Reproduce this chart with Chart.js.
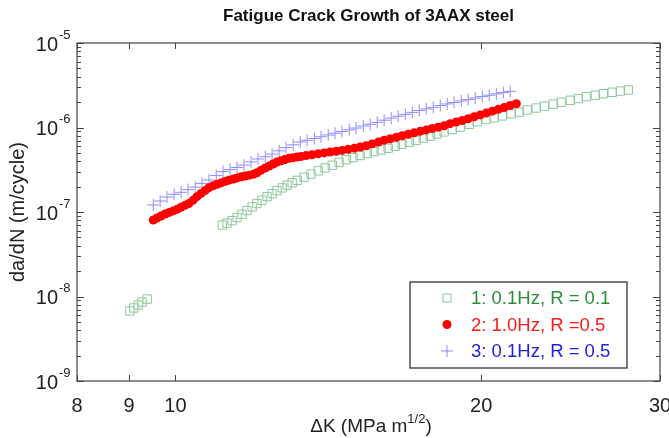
<!DOCTYPE html>
<html>
<head>
<meta charset="utf-8">
<script src="https://cdn.jsdelivr.net/npm/chart.js@4"></script>
<style>
  body { margin: 0; background: #fff; }
</style>
</head>
<body>
<canvas id="fcg-chart" width="669" height="438"></canvas>
<script>
// legend names
var seriesNames = ['1: 0.1Hz, R = 0.1', '2: 1.0Hz, R =0.5', '3: 0.1Hz, R = 0.5'];

// series 1 : 0.1Hz, R = 0.1 (green squares)
var dk1 = [9.02, 9.10, 9.19, 9.27, 9.38,
  11.12, 11.24, 11.37, 11.50, 11.63, 11.76, 11.90, 12.03, 12.17, 12.31, 12.45, 12.59, 12.74, 12.88, 13.03, 13.18,
  13.39, 13.60, 13.82, 14.04, 14.27, 14.49, 14.73, 14.96, 15.20, 15.45, 15.69, 15.94, 16.20, 16.46, 16.72, 16.99,
  17.26, 17.54, 17.82, 18.10, 18.39,
  18.73, 19.07, 19.47, 19.82, 20.23, 20.60, 20.98, 21.41, 21.80, 22.20, 22.66, 23.08, 23.55, 23.98, 24.48, 24.93,
  25.38, 25.91, 26.38, 26.92, 27.42, 27.92];
var dadn1 = [6.74e-9, 7.31e-9, 7.93e-9, 8.60e-9, 9.33e-9,
  7.0e-8, 7.4e-8, 7.9e-8, 8.6e-8, 9.4e-8, 1.04e-7, 1.15e-7, 1.26e-7, 1.38e-7, 1.52e-7, 1.65e-7, 1.79e-7, 1.93e-7, 2.08e-7, 2.22e-7, 2.37e-7,
  2.58e-7, 2.81e-7, 3.07e-7, 3.32e-7, 3.58e-7, 3.86e-7, 4.16e-7, 4.40e-7, 4.66e-7, 4.92e-7, 5.17e-7, 5.42e-7, 5.69e-7, 6.01e-7, 6.34e-7, 6.68e-7,
  7.07e-7, 7.49e-7, 7.91e-7, 8.38e-7, 8.87e-7,
  9.47e-7, 1.01e-6, 1.09e-6, 1.17e-6, 1.24e-6, 1.30e-6, 1.37e-6, 1.45e-6, 1.52e-6, 1.61e-6, 1.70e-6, 1.79e-6, 1.89e-6, 1.99e-6, 2.10e-6, 2.20e-6,
  2.32e-6, 2.41e-6, 2.51e-6, 2.61e-6, 2.70e-6, 2.78e-6];

// series 2 : 1.0Hz, R = 0.5 (red dots)
var dk2 = [9.51, 9.59, 9.68, 9.77, 9.86, 9.95, 10.04, 10.13, 10.22, 10.31, 10.41, 10.50, 10.60, 10.70, 10.79, 10.89,
  10.99, 11.09, 11.19, 11.29, 11.40, 11.50, 11.61, 11.71, 11.82, 11.93, 12.03, 12.14, 12.26, 12.37, 12.48, 12.59,
  12.71, 12.82, 12.94, 13.06, 13.18, 13.30,
  13.45, 13.63, 13.82, 14.01, 14.20, 14.40, 14.59, 14.79, 15.00, 15.20, 15.41, 15.62, 15.84, 16.05, 16.27, 16.50,
  16.72, 16.95, 17.18, 17.42, 17.66, 17.90, 18.14, 18.39, 18.64, 18.90, 19.16, 19.42, 19.69, 19.96, 20.23, 20.51,
  20.79, 21.07, 21.36, 21.66];
var dadn2 = [8.05e-8, 8.50e-8, 8.97e-8, 9.47e-8, 9.89e-8, 1.03e-7, 1.08e-7, 1.14e-7, 1.20e-7, 1.26e-7, 1.38e-7, 1.52e-7, 1.66e-7, 1.80e-7, 1.94e-7, 2.04e-7,
  2.13e-7, 2.21e-7, 2.30e-7, 2.38e-7, 2.45e-7, 2.53e-7, 2.61e-7, 2.67e-7, 2.73e-7, 2.79e-7, 2.91e-7, 3.11e-7, 3.32e-7, 3.50e-7, 3.70e-7, 3.91e-7,
  4.04e-7, 4.18e-7, 4.33e-7, 4.40e-7, 4.48e-7, 4.55e-7,
  4.65e-7, 4.76e-7, 4.88e-7, 5.00e-7, 5.13e-7, 5.24e-7, 5.36e-7, 5.51e-7, 5.69e-7, 5.88e-7, 6.09e-7, 6.39e-7, 6.72e-7, 7.06e-7, 7.36e-7, 7.67e-7,
  7.99e-7, 8.32e-7, 8.65e-7, 9.00e-7, 9.37e-7, 9.73e-7, 1.01e-6, 1.05e-6, 1.11e-6, 1.16e-6, 1.21e-6, 1.27e-6, 1.34e-6, 1.41e-6, 1.48e-6, 1.56e-6,
  1.64e-6, 1.72e-6, 1.82e-6, 1.91e-6];

// series 3 : 0.1Hz, R = 0.5 (blue crosses)
var dk3 = [9.51, 9.66, 9.81, 9.97, 10.13, 10.29, 10.46, 10.62, 10.79, 10.97, 11.14, 11.32, 11.50, 11.68, 11.87, 12.06,
  12.26, 12.45, 12.65, 12.85, 13.06, 13.27, 13.48, 13.70, 13.91, 14.14, 14.36, 14.59, 14.83, 15.06, 15.31, 15.55,
  15.80, 16.05, 16.31, 16.57, 16.84, 17.11, 17.38, 17.66, 17.94, 18.23, 18.52, 18.81, 19.12, 19.42, 19.73, 20.05,
  20.37, 20.70, 21.03, 21.36];
var dadn3 = [1.21e-7, 1.35e-7, 1.50e-7, 1.62e-7, 1.71e-7, 1.84e-7, 1.97e-7, 2.18e-7, 2.39e-7, 2.70e-7, 3.02e-7, 3.18e-7, 3.36e-7, 3.59e-7, 3.92e-7, 4.24e-7,
  4.51e-7, 4.84e-7, 5.30e-7, 5.78e-7, 6.24e-7, 6.74e-7, 7.06e-7, 7.41e-7, 7.77e-7, 8.15e-7, 8.55e-7, 8.97e-7, 9.40e-7, 9.86e-7, 1.04e-6, 1.09e-6,
  1.15e-6, 1.22e-6, 1.29e-6, 1.36e-6, 1.43e-6, 1.51e-6, 1.59e-6, 1.66e-6, 1.73e-6, 1.82e-6, 1.90e-6, 1.98e-6, 2.06e-6, 2.14e-6, 2.23e-6, 2.32e-6,
  2.41e-6, 2.50e-6, 2.59e-6, 2.68e-6];

// axis ticks
var xTicks = [8, 9, 10, 20, 30];
var yDecades = [-9, -8, -7, -6, -5];

var FONT = '"Liberation Sans", Arial, Helvetica, sans-serif';
var green = '#8cc89a', red = '#ff0000', blue = '#8c8cff';
var textColors = ['#2e8b3c', '#ff1a1a', '#2222dd'];

function pts(xs, ys) {
  var out = [];
  for (var i = 0; i < xs.length; i++) out.push({x: xs[i], y: ys[i]});
  return out;
}

// draw one marker the same way the datasets do
function marker(ctx, style, x, y) {
  ctx.save();
  ctx.lineWidth = 1;
  if (style == 'rect') {
    ctx.strokeStyle = green;
    ctx.strokeRect(x - 4, y - 4, 8, 8);
  } else if (style == 'circle') {
    ctx.fillStyle = red;
    ctx.beginPath(); ctx.arc(x, y, 4.5, 0, Math.PI * 2); ctx.fill();
  } else {
    ctx.strokeStyle = blue;
    ctx.beginPath();
    ctx.moveTo(x - 6, y); ctx.lineTo(x + 6, y);
    ctx.moveTo(x, y - 6); ctx.lineTo(x, y + 6);
    ctx.stroke();
  }
  ctx.restore();
}

// box, inward ticks, y labels with exponents, x title, legend
var frame = {
  id: 'frame',
  afterDraw: function (chart) {
    var ctx = chart.ctx, a = chart.chartArea;
    var xs = chart.scales.x, ys = chart.scales.y;
    ctx.save();
    ctx.strokeStyle = '#444';
    ctx.lineWidth = 1.2;
    ctx.strokeRect(a.left, a.top, a.right - a.left, a.bottom - a.top);

    ctx.beginPath();
    xTicks.forEach(function (v) {
      var px = Math.round(xs.getPixelForValue(v)) + 0.5;
      ctx.moveTo(px, a.bottom); ctx.lineTo(px, a.bottom - 6);
      ctx.moveTo(px, a.top); ctx.lineTo(px, a.top + 6);
    });
    yDecades.forEach(function (e, i) {
      var py = Math.round(ys.getPixelForValue(Math.pow(10, e))) + 0.5;
      ctx.moveTo(a.left, py); ctx.lineTo(a.left + 7, py);
      ctx.moveTo(a.right, py); ctx.lineTo(a.right - 7, py);
      if (i == yDecades.length - 1) return;
      for (var m = 2; m <= 9; m++) {
        var q = Math.round(ys.getPixelForValue(m * Math.pow(10, e))) + 0.5;
        ctx.moveTo(a.left, q); ctx.lineTo(a.left + 4, q);
        ctx.moveTo(a.right, q); ctx.lineTo(a.right - 4, q);
      }
    });
    ctx.lineWidth = 1;
    ctx.stroke();

    // y tick labels 10^n
    ctx.fillStyle = '#222';
    yDecades.forEach(function (e) {
      var py = ys.getPixelForValue(Math.pow(10, e));
      ctx.font = '20px ' + FONT;
      ctx.textAlign = 'right';
      ctx.textBaseline = 'middle';
      ctx.fillText('10', a.left - 19, py + 2);
      ctx.font = '13px ' + FONT;
      ctx.textAlign = 'left';
      ctx.fillText('-' + Math.abs(e), a.left - 18, py - 8);
    });

    // x axis title with superscript
    var cx = 371, cy = 425;
    var t1 = '\u0394K (MPa m', t2 = '1/2', t3 = ')';
    ctx.font = '19px ' + FONT;
    var w1 = ctx.measureText(t1).width, w3 = ctx.measureText(t3).width;
    ctx.font = '13px ' + FONT;
    var w2 = ctx.measureText(t2).width;
    var x0 = cx - (w1 + w2 + w3) / 2;
    ctx.textAlign = 'left';
    ctx.textBaseline = 'alphabetic';
    ctx.font = '19px ' + FONT;
    ctx.fillText(t1, x0, cy + 7);
    ctx.font = '13px ' + FONT;
    ctx.fillText(t2, x0 + w1, cy - 2);
    ctx.font = '19px ' + FONT;
    ctx.fillText(t3, x0 + w1 + w2, cy + 7);

    // legend box
    var lx = 410, ly = 282, lw = 217, lh = 86;
    ctx.fillStyle = '#fff';
    ctx.fillRect(lx, ly, lw, lh);
    ctx.strokeStyle = '#333';
    ctx.lineWidth = 1.3;
    ctx.strokeRect(lx, ly, lw, lh);
    var styles = ['rect', 'circle', 'cross'];
    ctx.font = '18.5px ' + FONT;
    ctx.textBaseline = 'middle';
    for (var i = 0; i < seriesNames.length; i++) {
      var ry = ly + 16 + i * 26.5;
      marker(ctx, styles[i], lx + 37, ry);
      ctx.fillStyle = textColors[i];
      ctx.fillText(seriesNames[i], lx + 61, ry + 1);
    }
    ctx.restore();
  }
};

var ctx = document.getElementById('fcg-chart').getContext('2d');
var chart = new Chart(ctx, {
  type: 'scatter',
  data: {
    datasets: [{
      label: seriesNames[0],
      data: pts(dk1, dadn1),
      pointStyle: 'rect',
      pointRadius: 5.9,
      borderColor: green,
      backgroundColor: 'rgba(0,0,0,0)',
      borderWidth: 1,
      order: 2
    }, {
      label: seriesNames[1],
      data: pts(dk2, dadn2),
      pointStyle: 'circle',
      pointRadius: 4.5,
      borderColor: red,
      backgroundColor: red,
      borderWidth: 0,
      order: 0
    }, {
      label: seriesNames[2],
      data: pts(dk3, dadn3),
      pointStyle: 'cross',
      pointRadius: 6,
      borderColor: blue,
      backgroundColor: blue,
      borderWidth: 1,
      order: 1
    }]
  },
  options: {
    responsive: false,
    animation: false,
    layout: { padding: { top: 0, left: 0, right: 9, bottom: 0 } },
    plugins: {
      legend: { display: false },
      tooltip: { enabled: false },
      title: {
        display: true,
        text: 'Fatigue Crack Growth of 3AAX steel',
        fullSize: false,
        color: '#111',
        font: { family: FONT, size: 17, weight: 'bold' },
        padding: { top: 6, bottom: 16.6 }
      }
    },
    scales: {
      x: {
        type: 'logarithmic',
        min: 8,
        max: 30,
        grid: { display: false, drawTicks: false },
        border: { display: false },
        afterBuildTicks: function (s) { s.ticks = xTicks.map(function (v) { return {value: v}; }); },
        afterFit: function (s) {
          s.height = 57;
          s.paddingLeft = 0;
          s.paddingRight = 0;
        },
        ticks: {
          autoSkip: false,
          maxRotation: 0,
          padding: 13,
          color: '#222',
          font: { family: FONT, size: 20 },
          callback: function (v) { return String(v); }
        }
      },
      y: {
        type: 'logarithmic',
        min: 1e-9,
        max: 1e-5,
        grid: { display: false, drawTicks: false },
        border: { display: false },
        afterFit: function (s) { s.width = 77; },
        ticks: { display: false },
        title: {
          display: true,
          text: 'da/dN (m/cycle)',
          color: '#222',
          font: { family: FONT, size: 20 },
          padding: { top: 6, bottom: 0 }
        }
      }
    }
  },
  plugins: [frame]
});
</script>
</body>
</html>
